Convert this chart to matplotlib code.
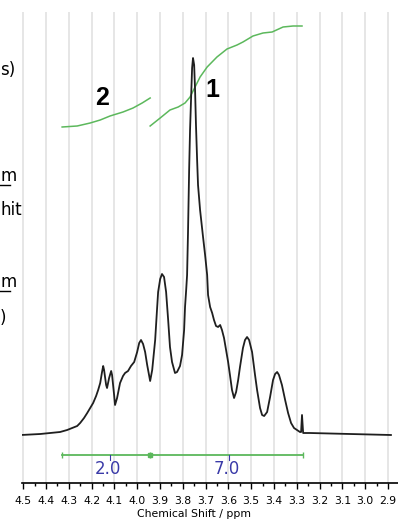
import matplotlib
matplotlib.use("Agg")
import matplotlib.pyplot as plt
from matplotlib.ticker import MultipleLocator, FormatStrFormatter

# spectrum trace: chemical shift (ppm) and intensity
shift = [4.509, 4.425, 4.338, 4.307, 4.285, 4.263, 4.250, 4.233, 4.219, 4.206,
         4.193, 4.180, 4.171, 4.162, 4.154, 4.149, 4.145, 4.136, 4.132, 4.123,
         4.114, 4.110, 4.101, 4.097, 4.088, 4.075, 4.062, 4.053, 4.040, 4.027,
         4.013, 4.000, 3.991, 3.983, 3.974, 3.965, 3.956, 3.943, 3.934, 3.921,
         3.913, 3.908, 3.899, 3.891, 3.882, 3.873, 3.864, 3.856, 3.847, 3.834,
         3.825, 3.812, 3.803, 3.794, 3.790, 3.785, 3.781, 3.777, 3.772, 3.768,
         3.763, 3.759, 3.755, 3.750, 3.746, 3.742, 3.737, 3.733, 3.724, 3.711,
         3.702, 3.693, 3.689, 3.680, 3.671, 3.663, 3.654, 3.645, 3.636, 3.628,
         3.619, 3.610, 3.601, 3.593, 3.584, 3.575, 3.566, 3.557, 3.549, 3.536,
         3.527, 3.518, 3.509, 3.496, 3.483, 3.474, 3.461, 3.452, 3.443, 3.430,
         3.417, 3.404, 3.395, 3.386, 3.378, 3.365, 3.351, 3.338, 3.325, 3.312,
         3.299, 3.286, 3.281, 3.277, 3.272, 3.242, 3.066, 2.887]
intensity = [-2, -1, 1, 3, 5, 7, 10, 15, 20, 25,
             30, 37, 43, 50, 61, 67, 63, 48, 45, 55,
             62, 58, 38, 28, 35, 50, 57, 60, 62, 67,
             71, 81, 90, 93, 89, 81, 68, 52, 63, 93,
             123, 141, 154, 159, 156, 141, 113, 86, 71, 60,
             61, 67, 78, 103, 126, 143, 158, 200, 263, 303,
             338, 365, 375, 368, 343, 308, 273, 248, 223, 196,
             178, 158, 138, 126, 120, 113, 107, 106, 108, 103,
             95, 83, 71, 58, 43, 35, 41, 53, 66, 85,
             93, 96, 93, 81, 58, 43, 25, 18, 17, 21,
             36, 53, 59, 61, 58, 48, 33, 20, 10, 5,
             3, 1, 1, 18, 0, 0, -1, -2]

# integral curves
int2_shift = [4.329, 4.263, 4.206, 4.162, 4.119, 4.062, 4.018, 3.978, 3.943]
int2_value = [306, 307, 310, 313, 317, 321, 325, 330, 335]
int1_shift = [3.943, 3.899, 3.856, 3.820, 3.790, 3.768, 3.746, 3.724, 3.693, 3.650,
              3.606, 3.562, 3.536, 3.492, 3.448, 3.408, 3.360, 3.316, 3.277]
int1_value = [307, 315, 323, 326, 330, 336, 346, 356, 366, 376,
              384, 388, 391, 397, 400, 401, 406, 407, 407]

# integration regions and their values
region_edges = [4.329, 3.943, 3.272]
region_labels = ["2.0", "7.0"]
region_label_pos = [4.127, 3.606]
peak_labels = ["2", "1"]
peak_label_pos = [(4.152, 335), (3.671, 343)]

green = "#5cb85c"
blue = "#3a3aa8"

fig = plt.figure(figsize=(3.98, 5.21), dpi=100)
ax = fig.add_axes([22 / 398, 38 / 521, 376 / 398, 471 / 521])

ax.plot(shift, intensity, color="#1f1f1f", lw=1.3, zorder=3)
ax.plot(int2_shift, int2_value, color=green, lw=1.1)
ax.plot(int1_shift, int1_value, color=green, lw=1.1)

bar_y = -22
ax.plot([region_edges[0], region_edges[-1]], [bar_y, bar_y], color=green, lw=1.3)
ax.plot(region_edges, [bar_y] * 3, ls="none", marker="|", ms=4, color=green)
ax.plot([region_edges[1]], [bar_y], ls="none", marker="s", ms=2.5, color=green)
for lab, x in zip(region_labels, region_label_pos):
    ax.plot([x - 0.009, x - 0.009], [bar_y, bar_y - 5], color=blue, lw=0.8)
    ax.text(x, -36, lab, color=blue, fontsize=12, ha="center", va="center")

for lab, (x, y) in zip(peak_labels, peak_label_pos):
    ax.text(x, y, lab, fontsize=18, fontweight="bold", ha="center", va="center",
            family="Liberation Sans")

ax.set_xlim(4.505, 2.856)
ax.set_ylim(-50, 421)
ax.xaxis.set_major_locator(MultipleLocator(0.1))
ax.xaxis.set_minor_locator(MultipleLocator(0.05))
ax.xaxis.set_major_formatter(FormatStrFormatter("%.1f"))
ax.tick_params(axis="x", which="major", length=4, width=1, pad=5, labelsize=7.8)
ax.tick_params(axis="x", which="minor", length=2, width=1)
ax.set_yticks([])
ax.grid(True, axis="x", color="#e4e4e4", lw=1.3)
ax.set_axisbelow(True)
for side in ["left", "right", "top"]:
    ax.spines[side].set_visible(False)
ax.spines["bottom"].set_linewidth(1.2)

fig.text(194 / 398, 1 - 509 / 521, "Chemical Shift / ppm", fontsize=7.8,
         ha="center", va="top")

# clipped text from a neighbouring panel at the left edge
fig.text(0.0, 1 - 70 / 521, "s)", fontsize=12, ha="left", va="center")
fig.text(0.0, 1 - 176 / 521, "m", fontsize=12, ha="left", va="center")
fig.text(0.0, 1 - 210 / 521, "hit", fontsize=12, ha="left", va="center")
fig.text(0.0, 1 - 282 / 521, "m", fontsize=12, ha="left", va="center")
fig.text(0.0, 1 - 318 / 521, ")", fontsize=12, ha="left", va="center")
for yy in [185, 291]:
    fig.add_artist(plt.Line2D([0, 10 / 398], [1 - yy / 521] * 2, color="black", lw=1))

fig.savefig("out.png", dpi=100)
